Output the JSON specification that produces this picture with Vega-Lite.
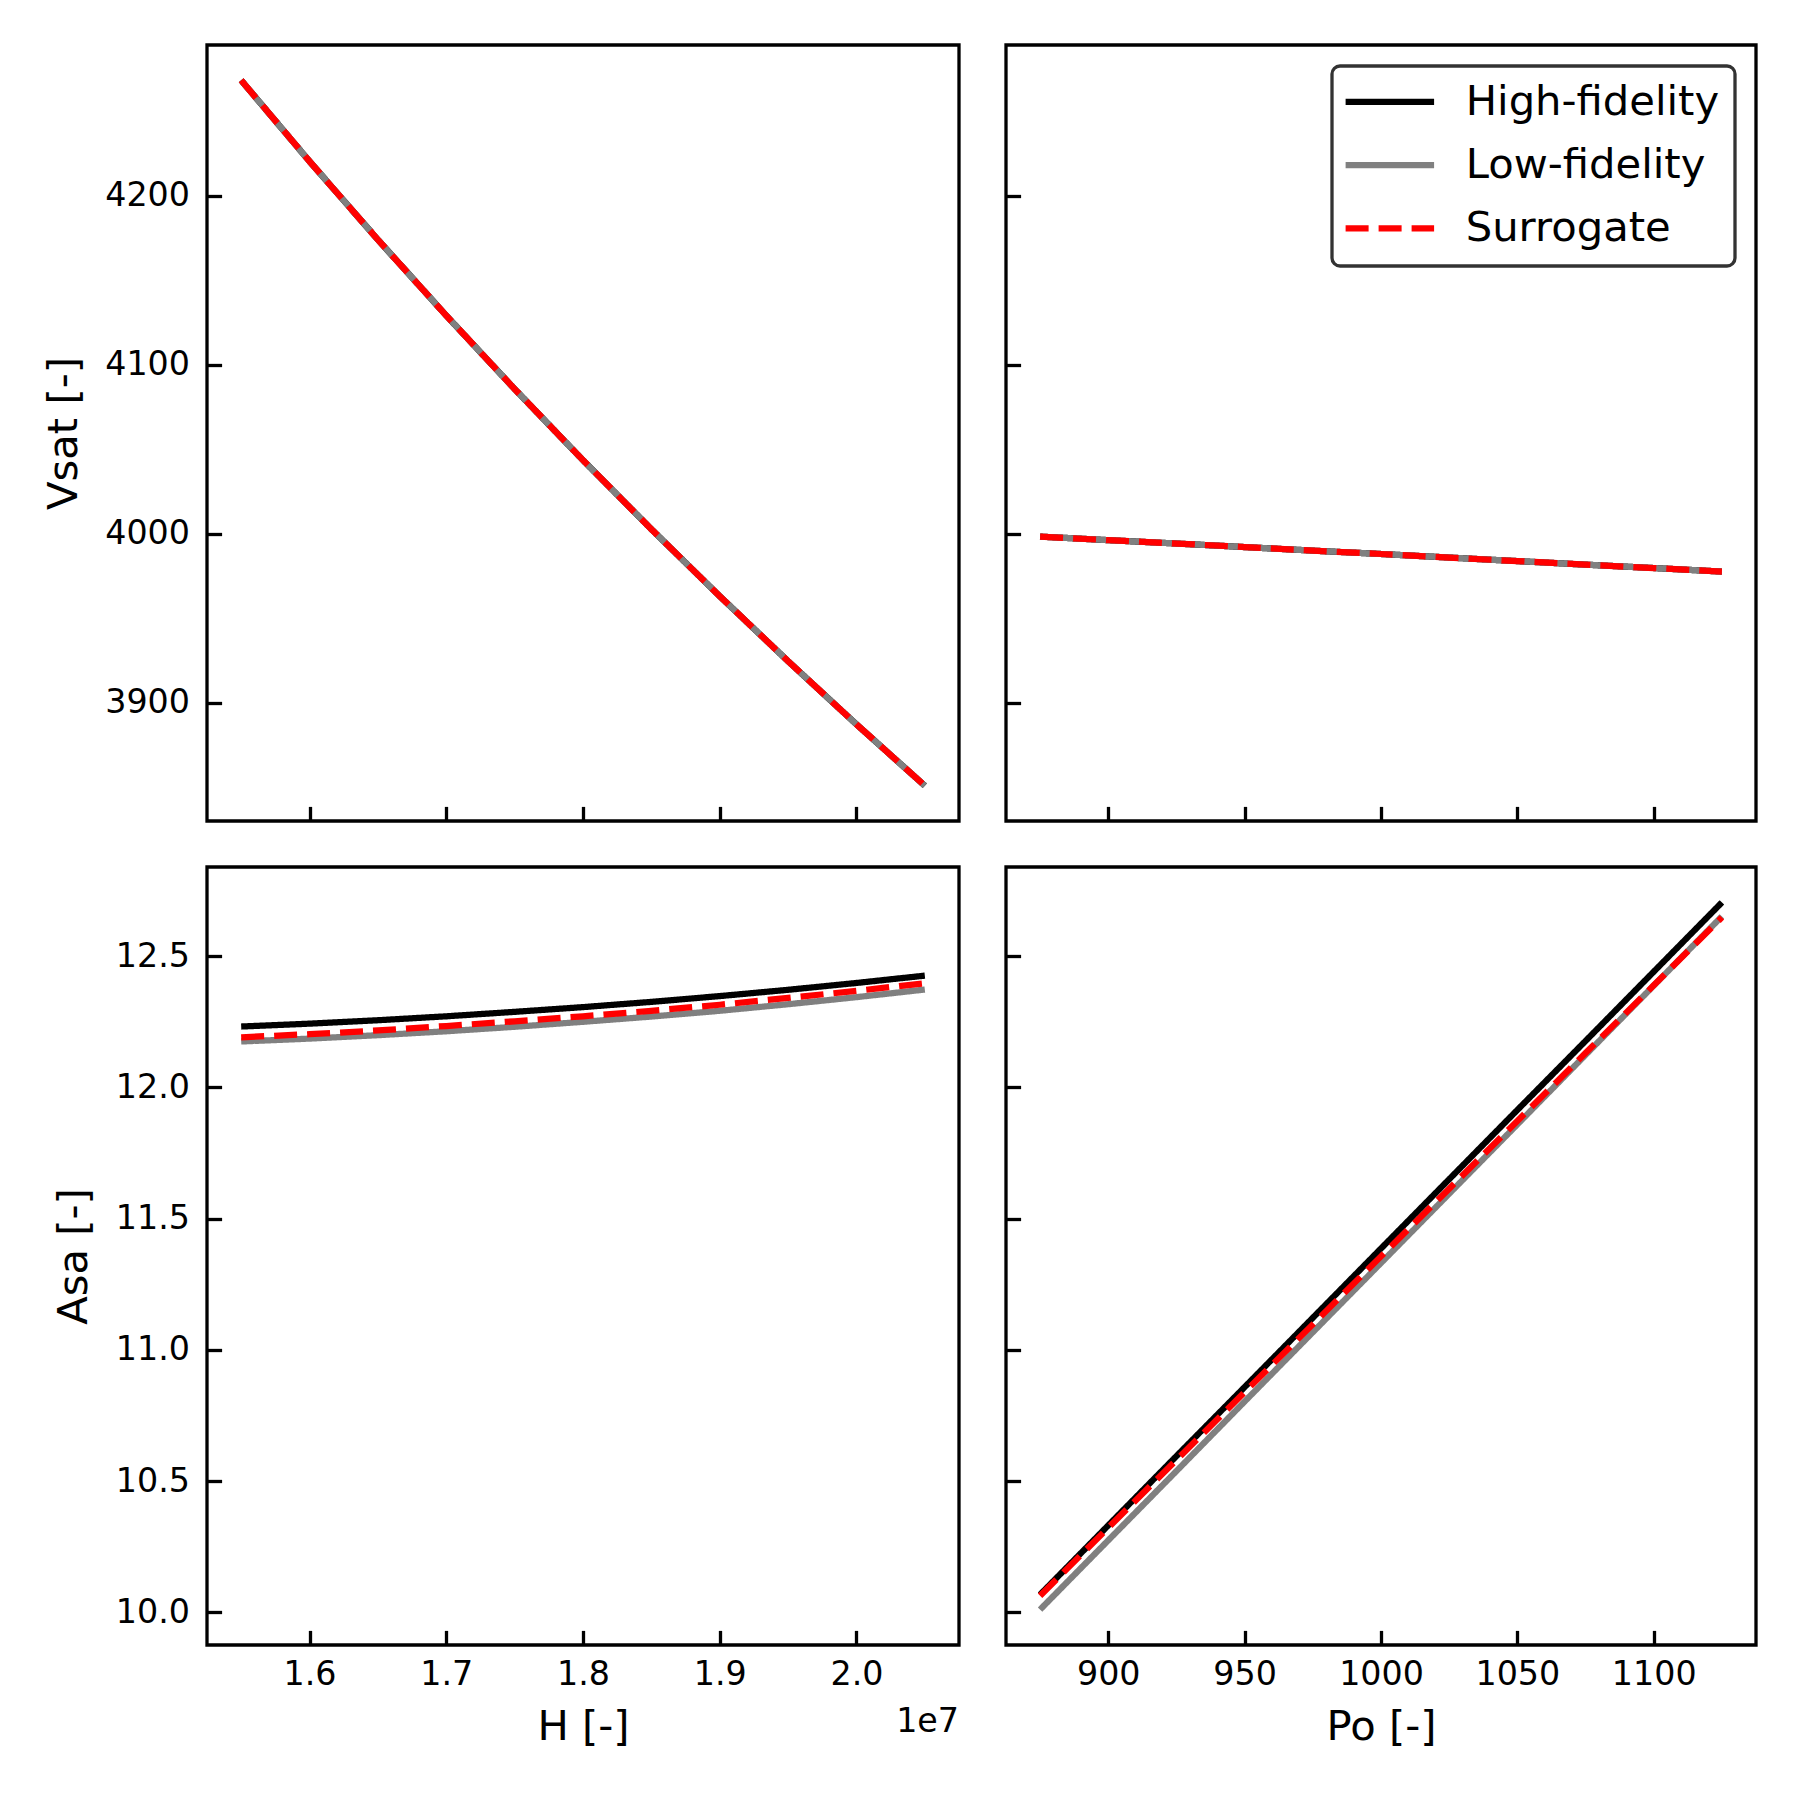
{
  "$schema": "https://vega.github.io/schema/vega-lite/v6.json",
  "background": "white",
  "padding": {"left": 41, "top": 43, "right": 43, "bottom": 40},
  "config": {
    "font": "DejaVu Sans",
    "view": {"stroke": "black", "strokeWidth": 3.3},
    "legend": {"strokeWidth": 3.3},
    "axis": {
      "domain": false, "grid": false, "ticks": true, "tickSize": -14.6, "tickWidth": 3.3, "tickColor": "black",
      "labelFont": "DejaVu Sans", "labelFontSize": 33.3, "labelColor": "black", "labelFlush": false, "labelOverlap": false,
      "titleFont": "DejaVu Sans", "titleFontSize": 41.7, "titleFontWeight": "normal", "titleColor": "black"
    },
    "axisX": {"labelPadding": 28.4, "titlePadding": 15},
    "axisY": {"labelPadding": 32.1, "titlePadding": 19.5}
  },
  "datasets": {
    "tl": [
      {"series": "High-fidelity", "H": 15500000, "Vsat": 4268.40}, {"series": "High-fidelity", "H": 16000000, "Vsat": 4220.44}, {"series": "High-fidelity", "H": 16500000, "Vsat": 4174.07}, {"series": "High-fidelity", "H": 17000000, "Vsat": 4129.19}, {"series": "High-fidelity", "H": 17500000, "Vsat": 4085.73}, {"series": "High-fidelity", "H": 18000000, "Vsat": 4043.61}, {"series": "High-fidelity", "H": 18500000, "Vsat": 4002.77}, {"series": "High-fidelity", "H": 19000000, "Vsat": 3963.14}, {"series": "High-fidelity", "H": 19500000, "Vsat": 3924.67}, {"series": "High-fidelity", "H": 20000000, "Vsat": 3887.30}, {"series": "High-fidelity", "H": 20500000, "Vsat": 3850.97},
      {"series": "Low-fidelity", "H": 15500000, "Vsat": 4268.40}, {"series": "Low-fidelity", "H": 16000000, "Vsat": 4220.44}, {"series": "Low-fidelity", "H": 16500000, "Vsat": 4174.07}, {"series": "Low-fidelity", "H": 17000000, "Vsat": 4129.19}, {"series": "Low-fidelity", "H": 17500000, "Vsat": 4085.73}, {"series": "Low-fidelity", "H": 18000000, "Vsat": 4043.61}, {"series": "Low-fidelity", "H": 18500000, "Vsat": 4002.77}, {"series": "Low-fidelity", "H": 19000000, "Vsat": 3963.14}, {"series": "Low-fidelity", "H": 19500000, "Vsat": 3924.67}, {"series": "Low-fidelity", "H": 20000000, "Vsat": 3887.30}, {"series": "Low-fidelity", "H": 20500000, "Vsat": 3850.97},
      {"series": "Surrogate", "H": 15500000, "Vsat": 4268.40}, {"series": "Surrogate", "H": 16000000, "Vsat": 4220.44}, {"series": "Surrogate", "H": 16500000, "Vsat": 4174.07}, {"series": "Surrogate", "H": 17000000, "Vsat": 4129.19}, {"series": "Surrogate", "H": 17500000, "Vsat": 4085.73}, {"series": "Surrogate", "H": 18000000, "Vsat": 4043.61}, {"series": "Surrogate", "H": 18500000, "Vsat": 4002.77}, {"series": "Surrogate", "H": 19000000, "Vsat": 3963.14}, {"series": "Surrogate", "H": 19500000, "Vsat": 3924.67}, {"series": "Surrogate", "H": 20000000, "Vsat": 3887.30}, {"series": "Surrogate", "H": 20500000, "Vsat": 3850.97}
    ],
    "tr": [
      {"series": "High-fidelity", "Po": 875, "Vsat": 3998.4}, {"series": "High-fidelity", "Po": 900, "Vsat": 3996.3}, {"series": "High-fidelity", "Po": 925, "Vsat": 3994.3}, {"series": "High-fidelity", "Po": 950, "Vsat": 3992.2}, {"series": "High-fidelity", "Po": 975, "Vsat": 3990.1}, {"series": "High-fidelity", "Po": 1000, "Vsat": 3988.1}, {"series": "High-fidelity", "Po": 1025, "Vsat": 3986.0}, {"series": "High-fidelity", "Po": 1050, "Vsat": 3983.9}, {"series": "High-fidelity", "Po": 1075, "Vsat": 3981.8}, {"series": "High-fidelity", "Po": 1100, "Vsat": 3979.8}, {"series": "High-fidelity", "Po": 1125, "Vsat": 3977.7},
      {"series": "Low-fidelity", "Po": 875, "Vsat": 3998.4}, {"series": "Low-fidelity", "Po": 900, "Vsat": 3996.3}, {"series": "Low-fidelity", "Po": 925, "Vsat": 3994.3}, {"series": "Low-fidelity", "Po": 950, "Vsat": 3992.2}, {"series": "Low-fidelity", "Po": 975, "Vsat": 3990.1}, {"series": "Low-fidelity", "Po": 1000, "Vsat": 3988.1}, {"series": "Low-fidelity", "Po": 1025, "Vsat": 3986.0}, {"series": "Low-fidelity", "Po": 1050, "Vsat": 3983.9}, {"series": "Low-fidelity", "Po": 1075, "Vsat": 3981.8}, {"series": "Low-fidelity", "Po": 1100, "Vsat": 3979.8}, {"series": "Low-fidelity", "Po": 1125, "Vsat": 3977.7},
      {"series": "Surrogate", "Po": 875, "Vsat": 3998.4}, {"series": "Surrogate", "Po": 900, "Vsat": 3996.3}, {"series": "Surrogate", "Po": 925, "Vsat": 3994.3}, {"series": "Surrogate", "Po": 950, "Vsat": 3992.2}, {"series": "Surrogate", "Po": 975, "Vsat": 3990.1}, {"series": "Surrogate", "Po": 1000, "Vsat": 3988.1}, {"series": "Surrogate", "Po": 1025, "Vsat": 3986.0}, {"series": "Surrogate", "Po": 1050, "Vsat": 3983.9}, {"series": "Surrogate", "Po": 1075, "Vsat": 3981.8}, {"series": "Surrogate", "Po": 1100, "Vsat": 3979.8}, {"series": "Surrogate", "Po": 1125, "Vsat": 3977.7}
    ],
    "bl": [
      {"series": "High-fidelity", "H": 15500000, "Asa": 12.232}, {"series": "High-fidelity", "H": 16000000, "Asa": 12.243}, {"series": "High-fidelity", "H": 16500000, "Asa": 12.256}, {"series": "High-fidelity", "H": 17000000, "Asa": 12.271}, {"series": "High-fidelity", "H": 17500000, "Asa": 12.288}, {"series": "High-fidelity", "H": 18000000, "Asa": 12.306}, {"series": "High-fidelity", "H": 18500000, "Asa": 12.326}, {"series": "High-fidelity", "H": 19000000, "Asa": 12.348}, {"series": "High-fidelity", "H": 19500000, "Asa": 12.372}, {"series": "High-fidelity", "H": 20000000, "Asa": 12.398}, {"series": "High-fidelity", "H": 20500000, "Asa": 12.426},
      {"series": "Low-fidelity", "H": 15500000, "Asa": 12.175}, {"series": "Low-fidelity", "H": 16000000, "Asa": 12.186}, {"series": "Low-fidelity", "H": 16500000, "Asa": 12.199}, {"series": "Low-fidelity", "H": 17000000, "Asa": 12.214}, {"series": "Low-fidelity", "H": 17500000, "Asa": 12.231}, {"series": "Low-fidelity", "H": 18000000, "Asa": 12.250}, {"series": "Low-fidelity", "H": 18500000, "Asa": 12.270}, {"series": "Low-fidelity", "H": 19000000, "Asa": 12.292}, {"series": "Low-fidelity", "H": 19500000, "Asa": 12.317}, {"series": "Low-fidelity", "H": 20000000, "Asa": 12.344}, {"series": "Low-fidelity", "H": 20500000, "Asa": 12.373},
      {"series": "Surrogate", "H": 15500000, "Asa": 12.191}, {"series": "Surrogate", "H": 16000000, "Asa": 12.203}, {"series": "Surrogate", "H": 16500000, "Asa": 12.217}, {"series": "Surrogate", "H": 17000000, "Asa": 12.234}, {"series": "Surrogate", "H": 17500000, "Asa": 12.252}, {"series": "Surrogate", "H": 18000000, "Asa": 12.271}, {"series": "Surrogate", "H": 18500000, "Asa": 12.292}, {"series": "Surrogate", "H": 19000000, "Asa": 12.315}, {"series": "Surrogate", "H": 19500000, "Asa": 12.341}, {"series": "Surrogate", "H": 20000000, "Asa": 12.368}, {"series": "Surrogate", "H": 20500000, "Asa": 12.397}
    ],
    "br": [
      {"series": "High-fidelity", "Po": 875, "Asa": 10.067}, {"series": "High-fidelity", "Po": 900, "Asa": 10.331}, {"series": "High-fidelity", "Po": 925, "Asa": 10.595}, {"series": "High-fidelity", "Po": 950, "Asa": 10.858}, {"series": "High-fidelity", "Po": 975, "Asa": 11.122}, {"series": "High-fidelity", "Po": 1000, "Asa": 11.386}, {"series": "High-fidelity", "Po": 1025, "Asa": 11.650}, {"series": "High-fidelity", "Po": 1050, "Asa": 11.914}, {"series": "High-fidelity", "Po": 1075, "Asa": 12.177}, {"series": "High-fidelity", "Po": 1100, "Asa": 12.441}, {"series": "High-fidelity", "Po": 1125, "Asa": 12.705},
      {"series": "Low-fidelity", "Po": 875, "Asa": 10.010}, {"series": "Low-fidelity", "Po": 900, "Asa": 10.274}, {"series": "Low-fidelity", "Po": 925, "Asa": 10.538}, {"series": "Low-fidelity", "Po": 950, "Asa": 10.803}, {"series": "Low-fidelity", "Po": 975, "Asa": 11.067}, {"series": "Low-fidelity", "Po": 1000, "Asa": 11.331}, {"series": "Low-fidelity", "Po": 1025, "Asa": 11.595}, {"series": "Low-fidelity", "Po": 1050, "Asa": 11.859}, {"series": "Low-fidelity", "Po": 1075, "Asa": 12.124}, {"series": "Low-fidelity", "Po": 1100, "Asa": 12.388}, {"series": "Low-fidelity", "Po": 1125, "Asa": 12.652},
      {"series": "Surrogate", "Po": 875, "Asa": 10.063}, {"series": "Surrogate", "Po": 900, "Asa": 10.322}, {"series": "Surrogate", "Po": 925, "Asa": 10.580}, {"series": "Surrogate", "Po": 950, "Asa": 10.839}, {"series": "Surrogate", "Po": 975, "Asa": 11.097}, {"series": "Surrogate", "Po": 1000, "Asa": 11.356}, {"series": "Surrogate", "Po": 1025, "Asa": 11.614}, {"series": "Surrogate", "Po": 1050, "Asa": 11.872}, {"series": "Surrogate", "Po": 1075, "Asa": 12.131}, {"series": "Surrogate", "Po": 1100, "Asa": 12.389}, {"series": "Surrogate", "Po": 1125, "Asa": 12.648}
    ]
  },
  "columns": 2,
  "spacing": {"row": 40, "column": 41},
  "resolve": {"scale": {"color": "independent", "strokeDash": "independent"}},
  "concat": [
    {
      "width": 752, "height": 776,
      "data": {"name": "tl"},
      "encoding": {
        "x": {"field": "H", "type": "quantitative", "scale": {"domain": [15250000, 20750000], "nice": false, "zero": false},
              "axis": {"values": [16000000, 17000000, 18000000, 19000000, 20000000], "labels": false, "title": null}},
        "y": {"field": "Vsat", "type": "quantitative", "scale": {"domain": [3830.1, 4289.3], "nice": false, "zero": false},
              "axis": {"values": [3900, 4000, 4100, 4200], "format": "d", "title": "Vsat [-]"}},
        "color": {"field": "series", "type": "nominal", "scale": {"domain": ["High-fidelity", "Low-fidelity", "Surrogate"], "range": ["#000000", "#808080", "#ff0000"]}, "legend": null},
        "strokeDash": {"field": "series", "type": "nominal", "scale": {"domain": ["High-fidelity", "Low-fidelity", "Surrogate"], "range": [[1, 0], [1, 0], [23, 10]]}, "legend": null}
      },
      "layer": [
        {"transform": [{"filter": "datum.series === 'High-fidelity'"}], "mark": {"type": "line", "strokeWidth": 6.25, "strokeCap": "butt"}},
        {"transform": [{"filter": "datum.series === 'Low-fidelity'"}], "mark": {"type": "line", "strokeWidth": 6.25, "strokeCap": "butt"}},
        {"transform": [{"filter": "datum.series === 'Surrogate'"}], "mark": {"type": "line", "strokeWidth": 6.25, "strokeCap": "butt"}}
      ]
    },
    {
      "width": 750, "height": 776,
      "data": {"name": "tr"},
      "encoding": {
        "x": {"field": "Po", "type": "quantitative", "scale": {"domain": [862.5, 1137.5], "nice": false, "zero": false},
              "axis": {"values": [900, 950, 1000, 1050, 1100], "labels": false, "title": null}},
        "y": {"field": "Vsat", "type": "quantitative", "scale": {"domain": [3830.1, 4289.3], "nice": false, "zero": false},
              "axis": {"values": [3900, 4000, 4100, 4200], "labels": false, "title": null}},
        "color": {"field": "series", "type": "nominal", "scale": {"domain": ["High-fidelity", "Low-fidelity", "Surrogate"], "range": ["#000000", "#808080", "#ff0000"]},
                  "legend": {"orient": "top-right", "offset": 21, "title": null, "labelFont": "DejaVu Sans", "labelFontSize": 41.7, "labelColor": "black", "labelLimit": 500, "symbolType": "M-2.622,0H2.622", "symbolSize": 1139, "symbolStrokeWidth": 6.25, "symbolOffset": 22, "labelOffset": 55, "padding": 15, "rowPadding": 20.3, "strokeColor": "#333333", "cornerRadius": 8, "fillColor": "white"}},
        "strokeDash": {"field": "series", "type": "nominal", "scale": {"domain": ["High-fidelity", "Low-fidelity", "Surrogate"], "range": [[1, 0], [1, 0], [23, 10]]},
                  "legend": {"orient": "top-right", "offset": 21, "title": null, "labelFont": "DejaVu Sans", "labelFontSize": 41.7, "labelColor": "black", "labelLimit": 500, "symbolType": "M-2.622,0H2.622", "symbolSize": 1139, "symbolStrokeWidth": 6.25, "symbolOffset": 22, "labelOffset": 55, "padding": 15, "rowPadding": 20.3, "strokeColor": "#333333", "cornerRadius": 8, "fillColor": "white"}}
      },
      "layer": [
        {"transform": [{"filter": "datum.series === 'High-fidelity'"}], "mark": {"type": "line", "strokeWidth": 6.25, "strokeCap": "butt"}},
        {"transform": [{"filter": "datum.series === 'Low-fidelity'"}], "mark": {"type": "line", "strokeWidth": 6.25, "strokeCap": "butt"}},
        {"transform": [{"filter": "datum.series === 'Surrogate'"}], "mark": {"type": "line", "strokeWidth": 6.25, "strokeCap": "butt"}}
      ]
    },
    {
      "width": 752, "height": 778,
      "data": {"name": "bl"},
      "title": {"text": "1e7", "orient": "bottom", "anchor": "end", "offset": -42, "font": "DejaVu Sans", "fontSize": 33.3, "fontWeight": "normal", "color": "black"},
      "encoding": {
        "x": {"field": "H", "type": "quantitative", "scale": {"domain": [15250000, 20750000], "nice": false, "zero": false},
              "axis": {"values": [16000000, 17000000, 18000000, 19000000, 20000000], "labelExpr": "format(datum.value / 10000000, '.1f')", "title": "H [-]"}},
        "y": {"field": "Asa", "type": "quantitative", "scale": {"domain": [9.875, 12.84], "nice": false, "zero": false},
              "axis": {"values": [10, 10.5, 11, 11.5, 12, 12.5], "format": ".1f", "title": "Asa [-]"}},
        "color": {"field": "series", "type": "nominal", "scale": {"domain": ["High-fidelity", "Low-fidelity", "Surrogate"], "range": ["#000000", "#808080", "#ff0000"]}, "legend": null},
        "strokeDash": {"field": "series", "type": "nominal", "scale": {"domain": ["High-fidelity", "Low-fidelity", "Surrogate"], "range": [[1, 0], [1, 0], [23, 10]]}, "legend": null}
      },
      "layer": [
        {"transform": [{"filter": "datum.series === 'High-fidelity'"}], "mark": {"type": "line", "strokeWidth": 6.25, "strokeCap": "butt"}},
        {"transform": [{"filter": "datum.series === 'Low-fidelity'"}], "mark": {"type": "line", "strokeWidth": 6.25, "strokeCap": "butt"}},
        {"transform": [{"filter": "datum.series === 'Surrogate'"}], "mark": {"type": "line", "strokeWidth": 6.25, "strokeCap": "butt"}}
      ]
    },
    {
      "width": 750, "height": 778,
      "data": {"name": "br"},
      "encoding": {
        "x": {"field": "Po", "type": "quantitative", "scale": {"domain": [862.5, 1137.5], "nice": false, "zero": false},
              "axis": {"values": [900, 950, 1000, 1050, 1100], "format": "d", "title": "Po [-]"}},
        "y": {"field": "Asa", "type": "quantitative", "scale": {"domain": [9.875, 12.84], "nice": false, "zero": false},
              "axis": {"values": [10, 10.5, 11, 11.5, 12, 12.5], "labels": false, "title": null}},
        "color": {"field": "series", "type": "nominal", "scale": {"domain": ["High-fidelity", "Low-fidelity", "Surrogate"], "range": ["#000000", "#808080", "#ff0000"]}, "legend": null},
        "strokeDash": {"field": "series", "type": "nominal", "scale": {"domain": ["High-fidelity", "Low-fidelity", "Surrogate"], "range": [[1, 0], [1, 0], [23, 10]]}, "legend": null}
      },
      "layer": [
        {"transform": [{"filter": "datum.series === 'High-fidelity'"}], "mark": {"type": "line", "strokeWidth": 6.25, "strokeCap": "butt"}},
        {"transform": [{"filter": "datum.series === 'Low-fidelity'"}], "mark": {"type": "line", "strokeWidth": 6.25, "strokeCap": "butt"}},
        {"transform": [{"filter": "datum.series === 'Surrogate'"}], "mark": {"type": "line", "strokeWidth": 6.25, "strokeCap": "butt"}}
      ]
    }
  ]
}
